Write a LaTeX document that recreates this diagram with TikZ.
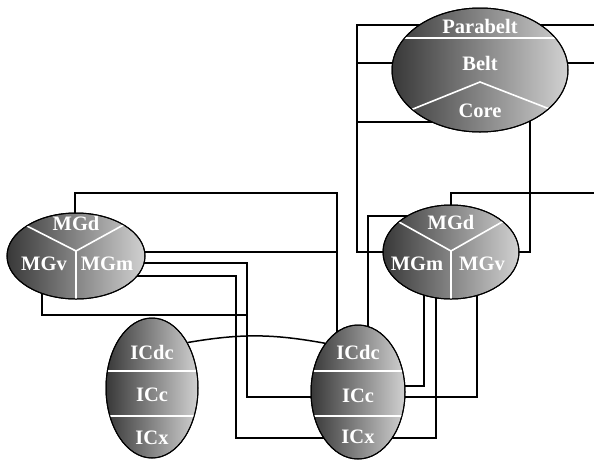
\documentclass[tikz,border=0pt]{standalone}
\usepackage{fontspec}
\setmainfont{Liberation Serif}
\usetikzlibrary{backgrounds,calc,shapes.geometric}
\begin{document}
\begin{tikzpicture}[x=1pt,y=-1pt,
  area/.style={ellipse, draw=black, line width=1pt, inner sep=0pt, left color=black!78, right color=black!18},
  rim/.style={draw=black, line width=1pt},
  divline/.style={white, line width=1.6pt},
  lbl/.style={text=white, font=\bfseries\fontsize{20.5}{22}\selectfont, inner sep=0pt},
  conn/.style={black, line width=1.5pt}]
\useasboundingbox (0,0) rectangle (594,459);

% ---- areas
\node[area, minimum width=176pt, minimum height=124pt] (T) at (480,70) {};
\node[area, minimum width=138pt, minimum height=86pt] (mgL) at (76,256) {};
\node[area, minimum width=136pt, minimum height=94pt] (mgR) at (451,252) {};
\node[area, minimum width=92pt, minimum height=140pt] (icL) at (152,388) {};
\node[area, minimum width=94pt, minimum height=134pt] (icR) at (358,392) {};

% ---- dividers
\begin{scope}
  \clip (480,70) ellipse [x radius=88, y radius=62];
  \draw[divline] (380,38) -- (580,38);
  \draw[divline] ($(480,82)+2*(-67,27)$) -- (480,82) -- ($(480,82)+2*(67,26)$);
\end{scope}
\draw[rim] (480,70) ellipse [x radius=88, y radius=62];

\begin{scope}
  \clip (76,256) ellipse [x radius=69, y radius=43];
  \draw[divline] ($(76,251)+2*(-51,-26)$) -- (76,251) -- ($(76,251)+2*(51,-28)$);
  \draw[divline] (76,251) -- (76,320);
\end{scope}
\draw[rim] (76,256) ellipse [x radius=69, y radius=43];

\begin{scope}
  \clip (451,252) ellipse [x radius=68, y radius=47];
  \draw[divline] ($(451,251)+2*(-52,-29)$) -- (451,251) -- ($(451,251)+2*(51,-29)$);
  \draw[divline] (451,251) -- (451,320);
\end{scope}
\draw[rim] (451,252) ellipse [x radius=68, y radius=47];

\begin{scope}
  \clip (152,388) ellipse [x radius=46, y radius=70];
  \draw[divline] (100,371) -- (210,371);
  \draw[divline] (100,416) -- (210,416);
\end{scope}
\draw[rim] (152,388) ellipse [x radius=46, y radius=70];

\begin{scope}
  \clip (358,392) ellipse [x radius=47, y radius=67];
  \draw[divline] (300,371) -- (420,371);
  \draw[divline] (300,416) -- (420,416);
\end{scope}
\draw[rim] (358,392) ellipse [x radius=47, y radius=67];

% ---- labels
\node[lbl] (tPara) at (480,26) {Parabelt};
\node[lbl] (tBelt) at (480,63) {Belt};
\node[lbl] (tCore) at (480,111) {Core};
\node[lbl] (lMGd) at (76,223) {MGd};
\node[lbl] (lMGv) at (44,264) {MGv};
\node[lbl] (lMGm) at (107,264) {MGm};
\node[lbl] (rMGd) at (451,222) {MGd};
\node[lbl] (rMGm) at (417,264) {MGm};
\node[lbl] (rMGv) at (482,264) {MGv};
\node[lbl] (lICdc) at (152,352) {ICdc};
\node[lbl] (lICc) at (152,395) {ICc};
\node[lbl] (lICx) at (152,438) {ICx};
\node[lbl] (rICdc) at (358,352) {ICdc};
\node[lbl] (rICc) at (358,396) {ICc};
\node[lbl] (rICx) at (358,437) {ICx};

% ---- free ends at the right border
\coordinate (e1) at (594,25);
\coordinate (e2) at (594,63);
\coordinate (e3) at (594,193);

% ---- connectors
\begin{scope}[on background layer]
  % auditory cortex bus on the left
  \draw[conn] (T.center |- 0,25) -- (357,25) -- (357,252) -- (mgR.center |- 0,252);
  \draw[conn] (T.center |- 0,63) -- (357,63);
  \draw[conn] (T.center |- 0,122) -- (357,122);
  % to the right border
  \draw[conn] (T.center |- 0,25) -- (e1);
  \draw[conn] (T.center |- 0,63) -- (e2);
  % core to right MG
  \draw[conn] (T.center -| 530,0) -- (530,252) -- (mgR.center |- 0,252);
  % right MG top to border
  \draw[conn] (mgR.center) -- (451,193) -- (e3);
  % right MG to right ICdc
  \draw[conn] (mgR.center |- 0,216) -- (368,216) -- (icR.center -| 368,0);
  % left MG
  \draw[conn] (mgL.center -| 75,0) -- (75,193) -- (337,193) -- (icR.center -| 337,0);
  \draw[conn] (mgL.center |- 0,252) -- (337,252);
  \draw[conn] (mgL.center |- 0,263) -- (247,263) -- (247,397) -- (icR.center |- 0,397);
  \draw[conn] (mgL.center |- 0,276) -- (236,276) -- (236,438) -- (icR.center |- 0,438);
  \draw[conn] (mgL.center -| 42,0) -- (42,315) -- (247,315);
  % right MG to right IC
  \draw[conn] (mgR.center -| 424,0) -- (424,386) -- (icR.center |- 0,386);
  \draw[conn] (mgR.center -| 436,0) -- (436,438) -- (icR.center |- 0,438);
  \draw[conn] (mgR.center -| 477,0) -- (477,397) -- (icR.center |- 0,397);
  % ICdc to ICdc
  \draw[conn] (icL.52) to[bend left=10] (icR.124);
\end{scope}
\end{tikzpicture}
\end{document}
